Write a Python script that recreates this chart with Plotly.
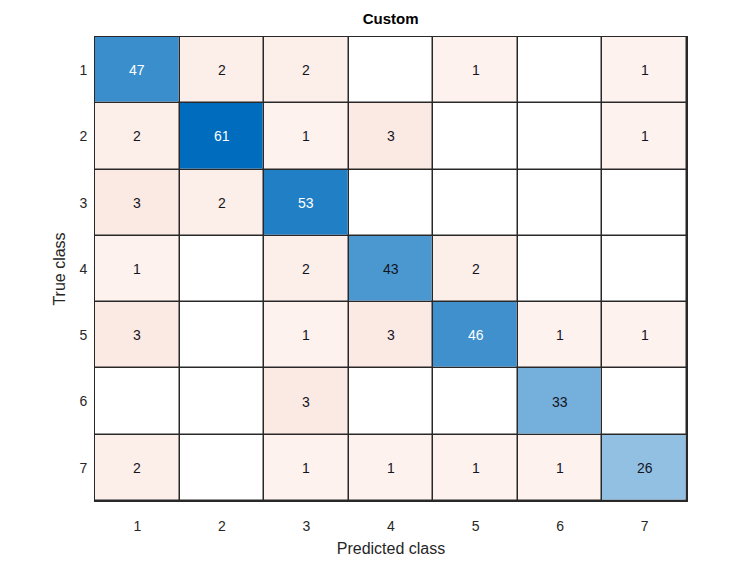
import plotly.graph_objects as go

classes = ["1", "2", "3", "4", "5", "6", "7"]

# rows = true class, columns = predicted class
counts = [
    [47, 2, 2, 0, 1, 0, 1],
    [2, 61, 1, 3, 0, 0, 1],
    [3, 2, 53, 0, 0, 0, 0],
    [1, 0, 2, 43, 2, 0, 0],
    [3, 0, 1, 3, 46, 1, 1],
    [0, 0, 3, 0, 0, 33, 0],
    [2, 0, 1, 1, 1, 1, 26],
]

n = len(classes)
peak = max(max(r) for r in counts)

diag_z = [[counts[i][j] if i == j else None for j in range(n)] for i in range(n)]
off_z = [[counts[i][j] if i != j else 0 for j in range(n)] for i in range(n)]

fig = go.Figure()
fig.add_trace(go.Heatmap(
    z=off_z, x=classes, y=classes,
    zmin=0, zmax=3,
    colorscale=[[0, "rgb(255,255,255)"], [0.33, "rgb(253,242,238)"],
                [0.67, "rgb(252,238,233)"], [1, "rgb(251,234,227)"]],
    showscale=False, xgap=1.5, ygap=1.5, hoverinfo="skip",
))
fig.add_trace(go.Heatmap(
    z=diag_z, x=classes, y=classes,
    zmin=0, zmax=peak,
    colorscale=[[0, "rgb(255,255,255)"], [1, "rgb(0,108,189)"]],
    showscale=False, xgap=1.5, ygap=1.5, hoverinfo="skip",
))

for i in range(n):
    for j in range(n):
        v = counts[i][j]
        if v == 0:
            continue
        dark = i == j and v / peak > 0.72
        # category axes: position by index
        fig.add_annotation(
            x=j, y=i, text=str(v), showarrow=False,
            font=dict(size=14, color="white" if dark else "rgb(20,20,30)"),
        )

# the page body adds an 8px offset, so the figure is a bit smaller than the window
fig.update_layout(
    width=746, height=559,
    margin=dict(l=87, r=67, t=29, b=63),
    paper_bgcolor="white", plot_bgcolor="rgb(40,40,40)",
    font=dict(family="Liberation Sans, Arial, sans-serif", color="rgb(38,38,38)"),
    title=dict(text="<b>Custom</b>", x=0.513, xanchor="center",
               y=0.981, yanchor="middle",
               font=dict(size=15, color="black")),
)
fig.update_xaxes(
    type="category",
    title=dict(text="Predicted class", font=dict(size=16), standoff=10),
    tickfont=dict(size=14), ticks="", ticklabelstandoff=12,
    showgrid=False, zeroline=False,
    showline=True, linecolor="rgb(40,40,40)", linewidth=1, mirror=True,
)
fig.update_yaxes(
    type="category",
    title=dict(text="True class", font=dict(size=16), standoff=9),
    tickfont=dict(size=14), ticks="", ticklabelstandoff=4,
    autorange="reversed", showgrid=False, zeroline=False,
    showline=True, linecolor="rgb(40,40,40)", linewidth=1, mirror=True,
)

fig.write_html("out.html")
